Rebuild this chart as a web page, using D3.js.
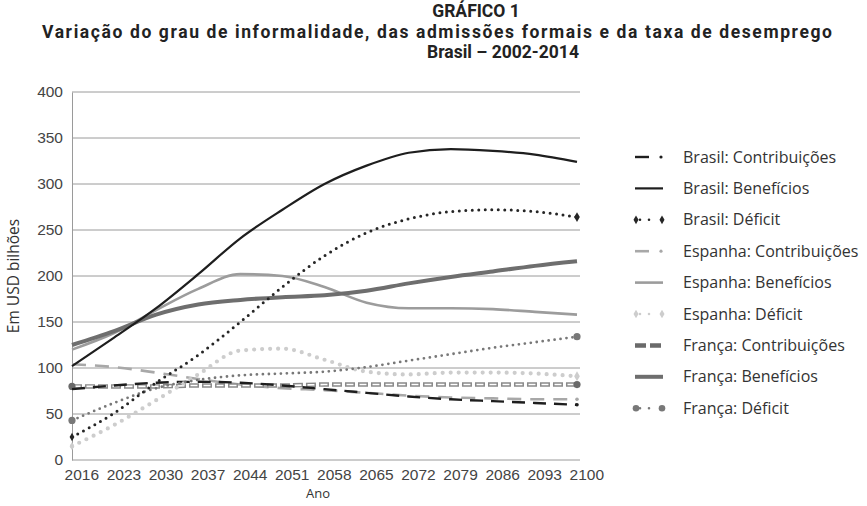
<!DOCTYPE html>
<html>
<head>
<meta charset="utf-8">
<script src="https://cdn.jsdelivr.net/npm/d3@7"></script>
<style>
  body { margin: 0; background: #fff; }
  svg { font-family: "Open Sans", "Noto Sans", sans-serif; }
  .title { font-family: Roboto, "Open Sans", sans-serif; font-weight: bold; fill: #222; }
  .tick text { fill: #444; font-size: 15.5px; }
  .legend text { fill: #333; font-size: 16px; }
</style>
</head>
<body>
<div id="chart"></div>
<script>
// values, every 7 years
var years = [2016, 2023, 2030, 2037, 2044, 2051, 2058, 2065, 2072, 2079, 2086, 2093, 2100];

var brasilContrib = [77, 81, 84, 85, 84, 81, 77, 73, 69, 66, 64, 62, 60];
var brasilBenef   = [102, 133, 165, 202, 241, 272, 300, 320, 334, 338, 336, 332, 324];
var brasilDef     = [25, 51, 84, 114, 150, 188, 222, 247, 262, 270, 272, 270, 264];

var espContrib = [104, 101, 95, 88, 82, 78, 76, 73, 70, 68, 67, 66, 66];
var espBenef   = [120, 138, 163, 186, 202, 200, 188, 171, 165, 165, 164, 161, 158];
var espDef     = [15, 38, 65, 93, 119, 121, 109, 96, 93, 95, 95, 94, 91];

var fraContrib = [80, 80, 80, 81, 81, 81, 82, 82, 82, 82, 82, 82, 82];
var fraBenef   = [125, 140, 158, 169, 174, 177, 179, 184, 192, 199, 205, 211, 216];
var fraDef     = [43, 62, 78, 87, 92, 94, 96, 101, 108, 115, 122, 128, 134];

var yTicks = [0, 50, 100, 150, 200, 250, 300, 350, 400];

var W = 867, H = 506;
var margin = {top: 92, left: 72, right: 290, bottom: 46};
var width = 577 - margin.left,
    height = 460 - margin.top;

var svg = d3.select("#chart").append("svg")
    .attr("width", W)
    .attr("height", H);

// titles
var titles = [
    ["GRÁFICO 1", 476, 17, 0],
    ["Variação do grau de informalidade, das admissões formais e da taxa de desemprego", 437, 37.5, 790],
    ["Brasil – 2002-2014", 503, 58, 0]
];
titles.forEach(function (t) {
    var tt = svg.append("text").attr("class", "title")
        .attr("x", t[1]).attr("y", t[2])
        .attr("text-anchor", "middle").style("font-size", "17.5px")
        .text(t[0]);
    if (t[3]) tt.attr("textLength", t[3]).attr("lengthAdjust", "spacing");
});

var x = d3.scaleLinear().domain([2016, 2100]).range([0, width]);
var y = d3.scaleLinear().domain([0, 400]).range([height, 0]);

var g = svg.append("g")
    .attr("transform", "translate(" + margin.left + "," + margin.top + ")");

// grid
g.append("g").selectAll("line")
    .data(yTicks.slice(1))
    .enter().append("line")
    .attr("x1", 0).attr("x2", 508)
    .attr("y1", function (d) { return y(d); })
    .attr("y2", function (d) { return y(d); })
    .attr("stroke", "#9a9a9a").attr("stroke-width", 1);

var yAxis = d3.axisLeft(y).tickValues(yTicks).tickSize(0).tickPadding(9);
g.append("g").call(yAxis)
    .call(function (s) { s.select(".domain").attr("stroke", "#9a9a9a"); });

var xAxis = d3.axisBottom(x).tickValues(years).tickFormat(d3.format("d")).tickSize(0).tickPadding(9);
g.append("g")
    .attr("transform", "translate(0," + height + ")")
    .call(xAxis)
    .call(function (s) {
        s.select(".domain").attr("stroke", "#9a9a9a").attr("d", "M0,0H508");
        s.selectAll(".tick text").attr("dx", "0.6em");
    });

svg.append("text")
    .attr("transform", "translate(19,276) rotate(-90)")
    .attr("text-anchor", "middle")
    .style("font-size", "15.5px").style("fill", "#333")
    .text("Em USD bilhões");

svg.append("text")
    .attr("x", 318).attr("y", 498)
    .attr("text-anchor", "middle")
    .style("font-size", "13px").style("fill", "#333")
    .text("Ano");

var series = [
    {name: "Brasil: Contribuições", values: brasilContrib, color: "#1e1e1e", w: 2.4, dash: "13,8", end: "dot"},
    {name: "Brasil: Benefícios", values: brasilBenef, color: "#1e1e1e", w: 2.2, dash: null},
    {name: "Brasil: Déficit", values: brasilDef, color: "#262626", w: 3, dash: "0,6.5", cap: "round", end: "diamond"},
    {name: "Espanha: Contribuições", values: espContrib, color: "#a8a8a8", w: 2.6, dash: "14,9", end: "dot"},
    {name: "Espanha: Benefícios", values: espBenef, color: "#9c9c9c", w: 2.6, dash: null},
    {name: "Espanha: Déficit", values: espDef, color: "#cdcdcd", w: 4.2, dash: "0,8", cap: "round", end: "diamond"},
    {name: "França: Contribuições", values: fraContrib, color: "#6a6a6a", w: 4.5, dash: "10,3", outline: true, end: "circle"},
    {name: "França: Benefícios", values: fraBenef, color: "#6e6e6e", w: 4, dash: null},
    {name: "França: Déficit", values: fraDef, color: "#787878", w: 2.8, dash: "0,6", cap: "round", end: "circle"}
];

var line = d3.line()
    .x(function (d, i) { return x(years[i]); })
    .y(function (d) { return y(d); })
    .curve(d3.curveMonotoneX);

var draw = [3, 6, 0, 5, 8, 4, 7, 2, 1];
draw.forEach(function (k) {
    var s = series[k];
    var p = g.append("path")
        .datum(s.values)
        .attr("fill", "none")
        .attr("stroke", s.color)
        .attr("stroke-width", s.w)
        .attr("stroke-linecap", s.cap || "butt")
        .attr("d", line);
    if (s.dash) p.attr("stroke-dasharray", s.dash);
    if (s.outline) {
        p.attr("stroke", "#8a8a8a");
        g.append("path")
            .datum(s.values)
            .attr("fill", "none")
            .attr("stroke", "#fff")
            .attr("stroke-width", 1.6)
            .attr("stroke-dasharray", "7,6")
            .attr("stroke-dashoffset", -1.5)
            .attr("d", line);
    }
    var last = s.values.length - 1;
    if (s.end == "dot") {
        g.append("circle")
            .attr("cx", x(years[last])).attr("cy", y(s.values[last]))
            .attr("r", 1.8).attr("fill", s.color);
    } else if (s.end == "diamond") {
        [0, last].forEach(function (i) {
            g.append("path")
                .attr("d", d3.symbol(d3.symbolDiamond, i ? 28 : 20)())
                .attr("transform", "translate(" + x(years[i]) + "," + y(s.values[i]) + ")")
                .attr("fill", s.color);
        });
    } else if (s.end == "circle") {
        [0, last].forEach(function (i) {
            g.append("circle")
                .attr("cx", x(years[i])).attr("cy", y(s.values[i]))
                .attr("r", 3.6).attr("fill", s.color);
        });
    }
});

// legend
var legend = svg.append("g").attr("class", "legend")
    .attr("transform", "translate(635,157)");

var row = legend.selectAll("g")
    .data(series)
    .enter().append("g")
    .attr("transform", function (d, i) { return "translate(0," + (i * 31.4) + ")"; });

row.each(function (s) {
    var r = d3.select(this);
    var l = r.append("line")
        .attr("x1", 0).attr("x2", 28)
        .attr("y1", 0).attr("y2", 0)
        .attr("stroke", s.color)
        .attr("stroke-width", s.w)
        .attr("stroke-linecap", s.cap || "butt");
    if (s.dash && !s.cap) l.attr("stroke-dasharray", s.outline ? "11,4" : "14,9");
    if (s.cap) l.attr("stroke-dasharray", "0,9").attr("x1", 5).attr("x2", 23).attr("stroke-width", 2.6);
    if (s.end == "dot") {
        r.append("circle").attr("cx", 26).attr("cy", 0).attr("r", 1.6).attr("fill", s.color);
        l.attr("x2", 14).attr("stroke-dasharray", null);
    }
    if (s.end == "diamond") {
        [1, 27].forEach(function (cx) {
            r.append("path").attr("d", d3.symbol(d3.symbolDiamond, 22)())
                .attr("transform", "translate(" + cx + ",0)").attr("fill", s.color);
        });
    }
    if (s.end == "circle" && s.cap) {
        [1, 27].forEach(function (cx) {
            r.append("circle").attr("cx", cx).attr("cy", 0).attr("r", 3.3).attr("fill", s.color);
        });
    }
    r.append("text")
        .attr("x", 48).attr("y", 0).attr("dy", "0.35em")
        .text(s.name);
});
</script>
</body>
</html>
